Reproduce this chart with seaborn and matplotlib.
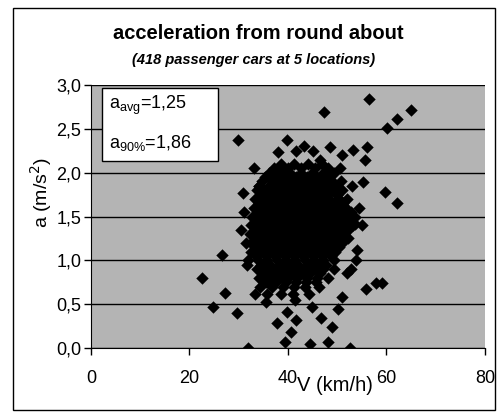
import seaborn as sns
import matplotlib.pyplot as plt
import matplotlib.patches as patches
import pandas as pd

plt.rcParams["font.family"] = ["Liberation Sans", "DejaVu Sans"]

# outlying points (km/h, m/s2)
v_out = [56.4, 47.3, 65.0, 62.1, 60.1, 29.8, 38.0, 39.8, 41.6, 43.2, 45.0, 48.5,
         51.0, 53.2, 56.0, 55.6, 46.5, 59.7, 62.1, 55.2, 39.0, 34.1, 30.9, 22.5,
         27.2, 24.8, 29.6, 31.9, 37.8, 39.4, 26.6, 31.7, 59.1, 57.8, 55.8, 51.0,
         52.6, 44.4, 48.1, 48.9, 46.7, 41.6, 39.8, 44.9, 41.4, 40.6, 50.2, 52.0,
         35.5, 33.4, 53.6, 54.0, 30.5, 31.0, 31.4, 53.8, 52.8, 54.5, 53.0, 50.5,
         33.0, 55.0]
a_out = [2.84, 2.69, 2.72, 2.61, 2.51, 2.37, 2.24, 2.37, 2.25, 2.30, 2.25, 2.29,
         2.20, 2.26, 2.29, 2.14, 2.14, 1.78, 1.65, 1.89, 2.00, 1.85, 1.77, 0.80,
         0.63, 0.47, 0.40, 0.00, 0.28, 0.07, 1.06, 0.95, 0.74, 0.74, 0.67, 0.58,
         0.00, 0.05, 0.07, 0.24, 0.34, 0.32, 0.41, 0.47, 0.55, 0.18, 0.44, 0.85,
         0.52, 0.62, 1.42, 1.12, 1.35, 1.55, 1.20, 1.00, 0.90, 1.60, 1.85, 2.05,
         2.05, 1.40]

# dense cloud, one row of speeds per acceleration level
cloud = {
    2.10: [38.6, 41.3, 44.0, 46.9],
    2.05: [37.2, 39.9, 42.6, 45.4, 48.2],
    2.00: [36.1, 38.3, 40.5, 42.7, 44.9, 47.1, 49.4],
    1.95: [35.4, 37.4, 39.5, 41.6, 43.8, 45.9, 48.1],
    1.90: [34.8, 36.7, 38.7, 40.7, 42.7, 44.8, 46.8, 48.9, 50.8],
    1.85: [34.2, 36.1, 38.0, 40.0, 41.9, 43.9, 45.9, 47.9, 49.9],
    1.80: [33.7, 35.5, 37.4, 39.3, 41.2, 43.2, 45.1, 47.1, 49.0, 51.0],
    1.75: [34.4, 36.3, 38.2, 40.1, 42.1, 44.0, 46.0, 48.0, 50.0],
    1.70: [33.3, 35.1, 37.0, 38.9, 40.8, 42.7, 44.6, 46.5, 48.4, 50.3, 52.0],
    1.65: [34.1, 36.0, 37.9, 39.8, 41.7, 43.6, 45.5, 47.4, 49.3, 51.1],
    1.60: [33.0, 34.9, 36.7, 38.6, 40.5, 42.4, 44.3, 46.2, 48.1, 50.0, 51.8],
    1.55: [33.9, 35.8, 37.6, 39.5, 41.4, 43.3, 45.2, 47.1, 49.0, 50.9, 52.7],
    1.50: [32.6, 34.5, 36.4, 38.3, 40.2, 42.1, 44.0, 45.9, 47.8, 49.7, 51.6, 53.6],
    1.45: [33.5, 35.4, 37.3, 39.2, 41.1, 43.0, 44.9, 46.8, 48.7, 50.6, 52.3],
    1.40: [32.4, 34.3, 36.2, 38.1, 40.0, 41.9, 43.8, 45.7, 47.6, 49.5, 51.4, 53.3],
    1.35: [33.3, 35.2, 37.1, 39.0, 40.9, 42.8, 44.7, 46.6, 48.5, 50.4, 52.2],
    1.30: [32.3, 34.2, 36.1, 38.0, 39.9, 41.8, 43.7, 45.6, 47.5, 49.4, 51.3],
    1.25: [33.2, 35.1, 37.0, 38.9, 40.8, 42.7, 44.6, 46.5, 48.4, 50.3, 52.1],
    1.20: [32.5, 34.4, 36.3, 38.2, 40.1, 42.0, 43.9, 45.8, 47.7, 49.6, 51.0],
    1.15: [33.4, 35.3, 37.2, 39.1, 41.0, 42.9, 44.8, 46.7, 48.6, 50.3],
    1.10: [32.4, 34.3, 36.2, 38.1, 40.0, 41.9, 43.8, 45.7, 47.6, 49.5],
    1.05: [33.6, 35.5, 37.4, 39.3, 41.2, 43.1, 45.0, 46.9, 48.8],
    1.00: [31.8, 33.9, 35.8, 37.7, 39.6, 41.5, 43.4, 45.3, 47.2, 49.4],
    0.95: [34.5, 36.4, 38.3, 40.2, 42.1, 44.0, 45.9, 47.8],
    0.90: [33.8, 35.7, 37.6, 39.5, 41.4, 43.3, 45.2, 47.1, 49.3],
    0.85: [35.0, 36.9, 38.8, 40.7, 42.6, 44.5, 46.4],
    0.80: [34.2, 36.2, 38.1, 40.0, 41.9, 43.8, 45.8, 48.2],
    0.75: [35.6, 37.6, 39.6, 41.6, 43.6, 45.6],
    0.70: [34.4, 36.8, 39.0, 41.2, 43.4, 46.3],
    0.62: [35.8, 38.6, 41.0, 44.2],
}

v_all = list(v_out)
a_all = list(a_out)
for a_level, speeds in cloud.items():
    v_all += speeds
    a_all += [a_level] * len(speeds)
df = pd.DataFrame({"V": v_all, "a": a_all})

fig = plt.figure(figsize=(4.98, 4.15), dpi=100)
ax = fig.add_axes([0.1827, 0.1614, 0.7912, 0.6338])
ax.set_facecolor("#b4b4b4")

sns.scatterplot(data=df, x="V", y="a", marker="D", s=40, color="black",
                edgecolor="black", linewidth=0, ax=ax, legend=False)

ax.set_xlim(0, 80)
ax.set_ylim(0, 3.0)
ax.set_xticks([0, 20, 40, 60, 80])
ax.set_yticks([0, 0.5, 1.0, 1.5, 2.0, 2.5, 3.0])
ax.set_yticklabels(["0,0", "0,5", "1,0", "1,5", "2,0", "2,5", "3,0"])
ax.tick_params(axis="both", labelsize=13, length=5, width=1, color="black")
ax.tick_params(axis="x", pad=11)
ax.tick_params(axis="y", pad=2)
ax.yaxis.grid(True, color="black", linewidth=1)
ax.set_axisbelow(True)
for side in ["top", "right"]:
    ax.spines[side].set_visible(False)
for side in ["left", "bottom"]:
    ax.spines[side].set_color("black")

ax.set_xlabel("")
ax.set_ylabel("")
fig.text(0.082, 0.535, "a (m/s$^2$)", fontsize=14, rotation=90,
         ha="center", va="center")
fig.text(0.672, 0.07, "V (km/h)", fontsize=14.5, ha="center", va="center")

# stats box
ax.add_patch(patches.Rectangle((0.028, 0.711), 0.294, 0.278, transform=ax.transAxes,
                               facecolor="white", edgecolor="black", linewidth=1,
                               zorder=3))
ax.text(0.045, 0.924, "a$_\\mathregular{avg}$=1,25", transform=ax.transAxes,
        fontsize=13, va="center", ha="left", zorder=4)
ax.text(0.045, 0.78, "a$_\\mathregular{90\\%}$=1,86", transform=ax.transAxes,
        fontsize=13, va="center", ha="left", zorder=4)

fig.text(0.518, 0.92, "acceleration from round about", fontsize=14.5,
         fontweight="bold", ha="center", va="center")
fig.text(0.51, 0.855, "(418 passenger cars at 5 locations)", fontsize=10.5,
         fontweight="bold", style="italic", ha="center", va="center")

fig.patches.append(patches.Rectangle((0.026, 0.012), 0.968, 0.968, fill=False,
                                     edgecolor="black", linewidth=1,
                                     transform=fig.transFigure, figure=fig))

fig.savefig("out.png", dpi=100)
